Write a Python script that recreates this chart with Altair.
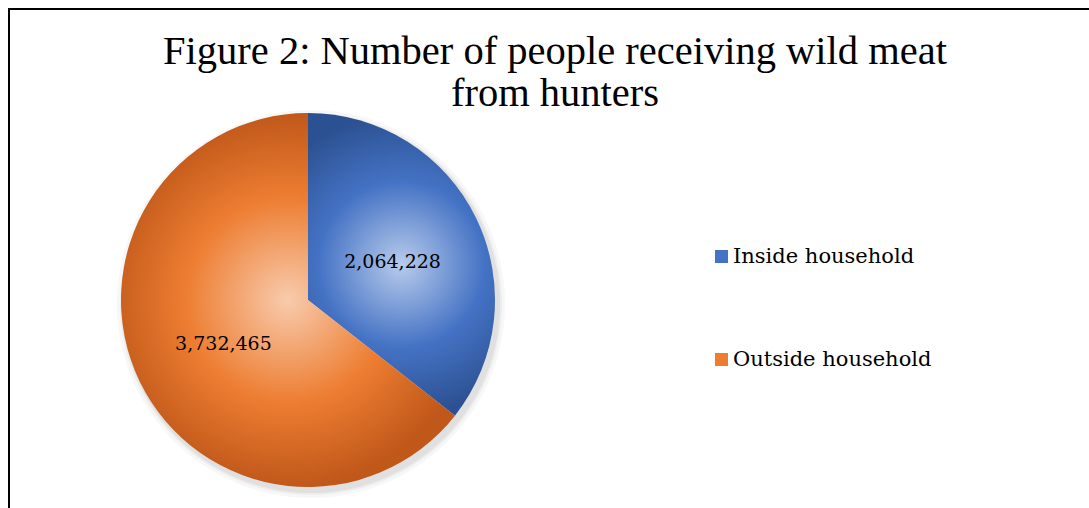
import altair as alt
import pandas as pd

categories = ["Inside household", "Outside household"]
values = [2064228, 3732465]
order_idx = [0, 1]
title_lines = ["Figure 2: Number of people receiving wild meat", "from hunters"]

base_colors = ["#4472c4", "#ed7d31"]

df = pd.DataFrame({"cat": categories, "value": values, "idx": order_idx})
one = pd.DataFrame({"k": [0]})

CX, CY, R = 308, 300, 187

grad_in = {
    "gradient": "radial", "x1": 0.5, "y1": 0.5, "r1": 0,
    "x2": 0.5, "y2": 0.5, "r2": 0.5,
    "stops": [
        {"offset": 0, "color": "#b8cbec"},
        {"offset": 0.55, "color": "#4472c4"},
        {"offset": 1, "color": "#2c5192"},
    ],
}
grad_out = {
    "gradient": "radial", "x1": 0.5, "y1": 0.5, "r1": 0,
    "x2": 0.5, "y2": 0.5, "r2": 0.5,
    "stops": [
        {"offset": 0, "color": "#f8cbad"},
        {"offset": 0.55, "color": "#ed7d31"},
        {"offset": 1, "color": "#c0581a"},
    ],
}

theta = alt.Theta("value:Q", stack=True)

# soft shadow
shadows = []
for rr, op in [(194, 0.03), (191, 0.04), (189, 0.05)]:
    shadows.append(
        alt.Chart(one).mark_arc(theta=0, theta2=6.2832, outerRadius=rr, color="#000000", opacity=op)
        .encode(x=alt.value(CX + 3), y=alt.value(CY + 4))
    )

pie = alt.Chart(df).mark_arc(outerRadius=R, stroke=None).encode(
    theta=theta,
    detail="cat:N",
    order=alt.Order("idx:Q"),
    fill=alt.condition(alt.datum.cat == "Inside household", alt.value(grad_in), alt.value(grad_out)),
    x=alt.value(CX),
    y=alt.value(CY),
)

labels = alt.Chart(df).mark_text(radius=94, dy=3, font="DejaVu Serif", fontSize=19, color="#000000").encode(
    theta=theta,
    detail="cat:N",
    order=alt.Order("idx:Q"),
    text=alt.Text("value:Q", format=","),
    x=alt.value(CX),
    y=alt.value(CY),
)

legend_layer = alt.Chart(df).mark_square(opacity=0).encode(
    color=alt.Color(
        "cat:N",
        scale=alt.Scale(domain=categories, range=base_colors),
        legend=alt.Legend(
            title=None, orient="none", legendX=711, legendY=246,
            symbolType="square", symbolSize=169, symbolOpacity=1, symbolStrokeWidth=0,
            labelFont="DejaVu Serif", labelFontSize=21, labelColor="#000000",
            rowPadding=81, labelOffset=1, padding=0, labelLimit=400,
        ),
    ),
    x=alt.value(-50),
    y=alt.value(-50),
)

title_text = alt.Chart(one).mark_text(
    font="Liberation Serif", fontSize=40.5, color="#000000", align="center",
    baseline="alphabetic", lineHeight=42,
).encode(
    text=alt.value(title_lines),
    x=alt.value(555),
    y=alt.value(64),
)

frame_top = alt.Chart(one).mark_rule(color="#000000", strokeWidth=2).encode(
    x=alt.value(8), x2=alt.value(1089), y=alt.value(9)
)
frame_left = alt.Chart(one).mark_rule(color="#000000", strokeWidth=2).encode(
    x=alt.value(9), y=alt.value(8), y2=alt.value(508)
)

chart = alt.layer(*shadows, pie, labels, legend_layer, title_text, frame_top, frame_left).properties(
    width=1089,
    height=508,
    padding=0,
    autosize=alt.AutoSizeParams(type="none"),
    background="#ffffff",
).configure_view(stroke=None)

chart.save("out.html", embed_options={"renderer": "svg", "actions": False})
